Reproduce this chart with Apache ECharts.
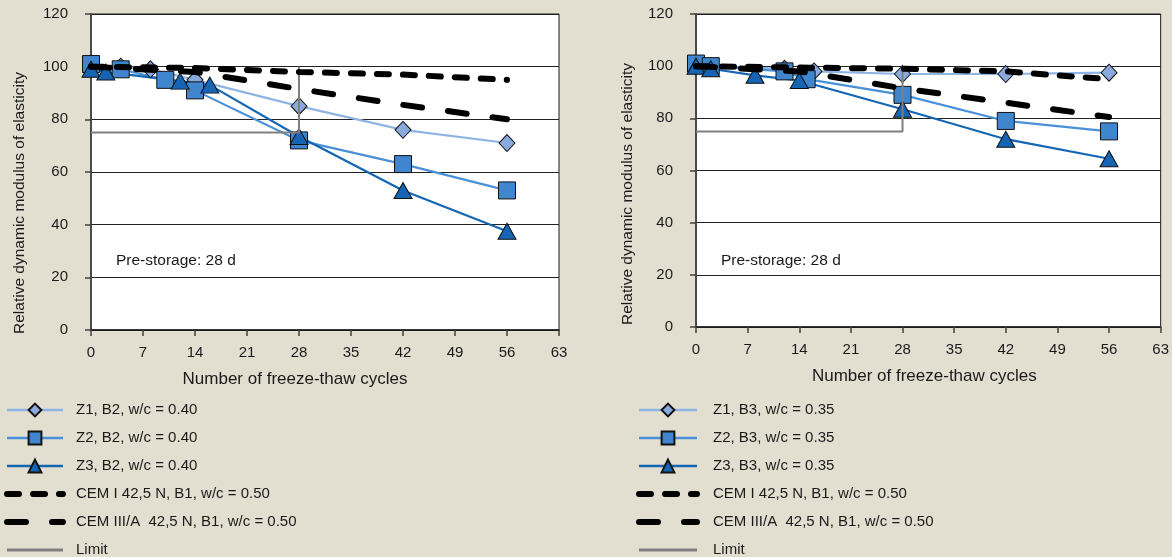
<!DOCTYPE html>
<html>
<head>
<meta charset="utf-8">
<script src="https://cdn.jsdelivr.net/npm/echarts@6/dist/echarts.min.js"></script>
<style>
html,body{margin:0;padding:0;background:#e2dfd0;}
#c{width:1172px;height:557px;}
</style>
</head>
<body>
<div id="c"></div>
<script>
// ---- data ----
const xTicks = [0, 7, 14, 21, 28, 35, 42, 49, 56, 63];
const yTicks = [0, 20, 40, 60, 80, 100, 120];

// Left panel (B2, w/c = 0.40)
const L_Z1_x = [0, 4, 8, 14, 28, 42, 56];
const L_Z1_y = [100, 100, 99, 95, 85, 76, 71];
const L_Z2_x = [0, 4, 10, 14, 28, 42, 56];
const L_Z2_y = [101, 99, 95, 91, 72, 63, 53];
const L_Z3_x = [0, 2, 12, 16, 28, 42, 56];
const L_Z3_y = [99, 98, 94.5, 93, 73.5, 53, 37.5];
const L_CEM1_x = [0, 14, 28, 42, 56];
const L_CEM1_y = [100, 99.5, 98, 97, 95];
const L_CEM3_x = [0, 14, 28, 42, 56];
const L_CEM3_y = [100, 98, 91.5, 85.5, 80];

// Right panel (B3, w/c = 0.35)
const R_Z1_x = [0, 2, 12, 16, 28, 42, 56];
const R_Z1_y = [100, 100, 99, 98, 97, 97, 97.5];
const R_Z2_x = [0, 2, 12, 15, 28, 42, 56];
const R_Z2_y = [101, 100, 98, 95, 89, 79, 75];
const R_Z3_x = [0, 2, 8, 14, 28, 42, 56];
const R_Z3_y = [100, 99, 96.5, 94.5, 83.5, 72, 64.5];
const R_CEM1_x = [0, 14, 28, 42, 56];
const R_CEM1_y = [100, 99.5, 99, 98, 95];
const R_CEM3_x = [0, 14, 28, 42, 56];
const R_CEM3_y = [100, 98, 91.5, 86, 80.5];

// Limit (both panels)
const LIMIT_x = [0, 28, 28];
const LIMIT_y = [75, 75, 100];

const namesL = ['Z1, B2, w/c = 0.40', 'Z2, B2, w/c = 0.40', 'Z3, B2, w/c = 0.40'];
const namesR = ['Z1, B3, w/c = 0.35', 'Z2, B3, w/c = 0.35', 'Z3, B3, w/c = 0.35'];
const nameCEM1 = 'CEM I 42,5 N, B1, w/c = 0.50';
const nameCEM3 = 'CEM III/A  42,5 N, B1, w/c = 0.50';
const nameLimit = 'Limit';
const xTitle = 'Number of freeze-thaw cycles';
const yTitle = 'Relative dynamic modulus of elasticity';
const note = 'Pre-storage: 28 d';

// ---- styling ----
const FONT = "'Liberation Sans', Arial, sans-serif";
const TXT = '#1a1a1a';
const C1 = { line: '#8fb4e3', fill: '#8aa9dd' };
const C2 = { line: '#4a90d9', fill: '#3f86cf' };
const C3 = { line: '#1466b4', fill: '#1565b4' };
const DASH1 = [12, 14];
const DASH3 = [19, 26];

function zip(xs, ys) { return xs.map((x, i) => [x, ys[i]]); }

function zSeries(name, xs, ys, c, symbol, size, idx) {
  return {
    name, type: 'line', xAxisIndex: idx, yAxisIndex: idx,
    data: zip(xs, ys), symbol, symbolSize: size, z: 2,
    lineStyle: { color: c.line, width: 2.2 },
    itemStyle: { color: c.fill, borderColor: '#111', borderWidth: 1 },
    emphasis: { disabled: true }, animation: false
  };
}
function dashSeries(name, xs, ys, dash, idx) {
  return {
    name, type: 'line', xAxisIndex: idx, yAxisIndex: idx,
    data: zip(xs, ys), symbol: 'none', z: 4,
    lineStyle: { color: '#000', width: 6, type: dash, cap: 'round' },
    itemStyle: { color: '#000' },
    emphasis: { disabled: true }, animation: false
  };
}
function limitSeries(idx) {
  return {
    name: nameLimit, type: 'line', xAxisIndex: idx, yAxisIndex: idx,
    data: zip(LIMIT_x, LIMIT_y), symbol: 'none', z: 3,
    lineStyle: { color: '#7f7f7f', width: 2 },
    itemStyle: { color: '#7f7f7f' },
    emphasis: { disabled: true }, animation: false
  };
}

function xAxis(idx, pad) {
  return {
    type: 'value', gridIndex: idx, min: 0, max: 63, interval: 7,
    name: xTitle, nameLocation: 'middle', nameGap: 41,
    nameTextStyle: { fontFamily: FONT, fontSize: 17, color: TXT, padding: pad },
    axisLine: { show: true, onZero: false, lineStyle: { color: '#1a1a1a', width: 1.5 } },
    axisTick: { show: true, length: 6, lineStyle: { color: '#404040', width: 1.5 } },
    axisLabel: { fontFamily: FONT, fontSize: 15, color: TXT, margin: 15 },
    splitLine: { show: false }
  };
}
function yAxis(idx, gap, pad) {
  return {
    type: 'value', gridIndex: idx, min: 0, max: 120, interval: 20,
    name: yTitle, nameLocation: 'middle', nameGap: gap,
    nameTextStyle: { fontFamily: FONT, fontSize: 15.5, color: TXT, padding: pad },
    axisLine: { show: true, lineStyle: { color: '#4a4a4a', width: 2 } },
    axisTick: { show: true, length: 6, lineStyle: { color: '#404040', width: 1.5 } },
    axisLabel: { fontFamily: FONT, fontSize: 15, color: TXT, margin: 23 },
    splitLine: { show: true, lineStyle: { color: '#222', width: 1 } }
  };
}

function legendData(names, cols) {
  return names.map((n, i) => ({ name: n, lineStyle: { width: 2.6, color: cols[i].line } })).concat([
    { name: nameCEM1, itemStyle: { opacity: 0 }, lineStyle: { width: 6, type: DASH1, cap: 'round', color: '#000' } },
    { name: nameCEM3, itemStyle: { opacity: 0 }, lineStyle: { width: 6, type: DASH3, cap: 'round', color: '#000' } },
    { name: nameLimit, itemStyle: { opacity: 0 }, lineStyle: { width: 3, color: '#7f7f7f' } }
  ]);
}
function legend(left, w, textPad, names) {
  return {
    orient: 'vertical', left, top: 402, height: 170, padding: 0,
    itemWidth: w, itemHeight: 16, itemGap: 12,
    selectedMode: false,
    textStyle: { fontFamily: FONT, fontSize: 15, color: TXT, lineHeight: 16, padding: [0, 0, 0, textPad] },
    data: legendData(names, [C1, C2, C3])
  };
}

const option = {
  backgroundColor: '#e2dfd0',
  animation: false,
  grid: [
    { left: 91, top: 14, width: 468, height: 316, show: true, backgroundColor: '#fff', borderColor: '#1a1a1a', borderWidth: 1 },
    { left: 696, top: 14, width: 467, height: 313, show: true, backgroundColor: '#fff', borderColor: '#1a1a1a', borderWidth: 1 }
  ],
  xAxis: [xAxis(0, [0, 60, 0, 0]), xAxis(1, [0, 8, 0, 0])],
  yAxis: [yAxis(0, 63, [0, 62, 0, 0]), yAxis(1, 60, [0, 47, 0, 0])],
  legend: [
    legend(4, 56, 8, namesL),
    legend(636, 58, 11, namesR)
  ],
  graphic: [
    { type: 'text', left: 116, top: 253, style: { text: note, font: '15.5px ' + FONT, fill: TXT } },
    { type: 'text', left: 721, top: 253, style: { text: note, font: '15.5px ' + FONT, fill: TXT } }
  ],
  series: [
    zSeries(namesL[0], L_Z1_x, L_Z1_y, C1, 'diamond', [16, 17], 0),
    zSeries(namesL[1], L_Z2_x, L_Z2_y, C2, 'rect', 17, 0),
    zSeries(namesL[2], L_Z3_x, L_Z3_y, C3, 'triangle', [18, 16], 0),
    dashSeries(nameCEM1, L_CEM1_x, L_CEM1_y, DASH1, 0),
    dashSeries(nameCEM3, L_CEM3_x, L_CEM3_y, DASH3, 0),
    limitSeries(0),
    zSeries(namesR[0], R_Z1_x, R_Z1_y, C1, 'diamond', [16, 17], 1),
    zSeries(namesR[1], R_Z2_x, R_Z2_y, C2, 'rect', 17, 1),
    zSeries(namesR[2], R_Z3_x, R_Z3_y, C3, 'triangle', [18, 16], 1),
    dashSeries(nameCEM1, R_CEM1_x, R_CEM1_y, DASH1, 1),
    dashSeries(nameCEM3, R_CEM3_x, R_CEM3_y, DASH3, 1),
    limitSeries(1)
  ]
};

const chart = echarts.init(document.getElementById('c'), null, { renderer: 'canvas', width: 1172, height: 557 });
chart.setOption(option);
</script>
</body>
</html>
